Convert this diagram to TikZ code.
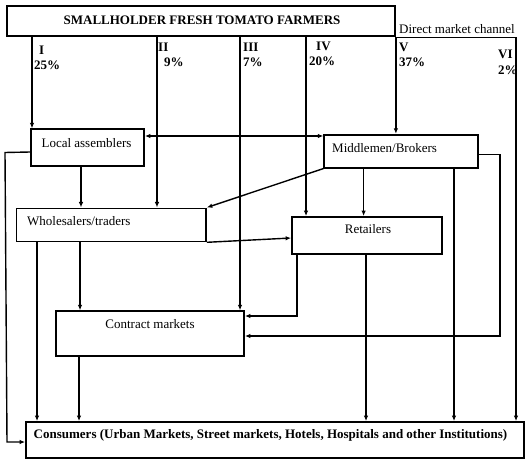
\documentclass[tikz,border=0pt]{standalone}
\usepackage{fontspec}
\setmainfont{Liberation Serif}
\usetikzlibrary{arrows.meta}
\begin{document}
\begin{tikzpicture}[x=1pt,y=-1pt,
  box/.style={draw,line width=1.8pt,rectangle,inner sep=0pt},
  txt/.style={inner sep=0pt,font=\fontsize{13}{15}\selectfont,text height=8.6pt,text depth=0pt},
  btxt/.style={txt,font=\fontsize{13}{15}\selectfont\bfseries},
  conn/.style={line width=1.4pt},
  arr/.style={conn,-{Latex[length=5.5pt,width=4.5pt]}},
  darr/.style={conn,{Latex[length=5.5pt,width=4.5pt]}-{Latex[length=5.5pt,width=4.5pt]}}]
\useasboundingbox (0,0) rectangle (529,462);
% boxes
\node[box,minimum width=388pt,minimum height=30.7pt] (farm) at (201,21) {};
\node[box,minimum width=113pt,minimum height=37pt] (local) at (87.5,147.8) {};
\node[box,minimum width=153.5pt,minimum height=33pt] (mid) at (401,151.2) {};
\node[box,minimum width=189.5pt,minimum height=33pt] (whole) at (111.2,224.9) {};
\node[box,minimum width=150pt,minimum height=37pt] (ret) at (367,235.5) {};
\node[box,minimum width=188pt,minimum height=44.7pt] (contract) at (150,333.6) {};
\node[box,minimum width=498pt,minimum height=36pt] (cons) at (275,440) {};
% texts
\node[btxt] (farmT) at (202,20) {SMALLHOLDER FRESH TOMATO FARMERS};
\node[txt,anchor=west] (directT) at (399,29.7) {Direct market channel};
\node[txt] (localT) at (86.5,143) {Local assemblers};
\node[txt,anchor=west] (midT) at (332,148) {Middlemen/Brokers};
\node[txt,anchor=west] (wholeT) at (27,221) {Wholesalers/traders};
\node[txt] (retT) at (368,229) {Retailers};
\node[txt] (contractT) at (150,324) {Contract markets};
\node[btxt] (consT) at (270.5,434.5) {Consumers (Urban Markets, Street markets, Hotels, Hospitals and other Institutions)};
% channel labels
\node[btxt,anchor=west] (lI) at (39,50) {I};
\node[btxt,anchor=west] (pI) at (34,65) {25\%};
\node[btxt,anchor=west] (lII) at (158,47) {II};
\node[btxt,anchor=west] (pII) at (164,62) {9\%};
\node[btxt,anchor=west] (lIII) at (243,47) {III};
\node[btxt,anchor=west] (pIII) at (243,62) {7\%};
\node[btxt,anchor=west] (lIV) at (316,46) {IV};
\node[btxt,anchor=west] (pIV) at (309,61) {20\%};
\node[btxt,anchor=west] (lV) at (399,47) {V};
\node[btxt,anchor=west] (pV) at (399,62) {37\%};
\node[btxt,anchor=west] (lVI) at (498,54) {VI};
\node[btxt,anchor=west] (pVI) at (498,70) {2\%};
% helper coordinates
\coordinate (cI) at (32,0);
\coordinate (cII) at (157,0);
\coordinate (cIII) at (240,0);
\coordinate (cIV) at (306,0);
\coordinate (cVI) at (516,0);
\coordinate (cLW) at (81,0);
\coordinate (cWC) at (37,0);
\coordinate (cWK) at (80,0);
\coordinate (cKC) at (79,0);
\coordinate (cMR) at (363.6,0);
\coordinate (cMC) at (454,0);
\coordinate (cRC) at (366,0);
\coordinate (cRK) at (297,0);
\coordinate (yD) at (0,136);
\coordinate (yLL) at (0,152);
\coordinate (yLB) at (0,442);
\coordinate (yMR) at (0,154.4);
\coordinate (yMK) at (0,336);
\coordinate (yRK) at (0,316);
\coordinate (yWR) at (0,238);
\coordinate (lftA) at (5,152.5);
\coordinate (lftB) at (7,442);
\coordinate (rgtA) at (500,154.4);
\coordinate (rgtB) at (500,336);
\coordinate (rkA) at (297,316);
% farmer channels
\draw[arr] (farm.south -| cI) -- (local.north -| cI);
\draw[arr] (farm.south -| cII) -- (whole.north -| cII);
\draw[arr] (farm.south -| cIII) -- (contract.north -| cIII);
\draw[arr] (farm.south -| cIV) -- (ret.north -| cIV);
\draw[arr] (farm.south east) -- (farm.south east |- mid.north);
\draw[arr] (farm.south east) -| (cons.north -| cVI);
% local assemblers
\draw[darr] (local.east |- yD) -- (mid.west |- yD);
\draw[arr] (local.south -| cLW) -- (whole.north -| cLW);
\draw[arr] (local.west |- yLL) -- (lftA) -- (lftB) -- (cons.west |- yLB);
% middlemen
\draw[arr] (mid.south west) -- (whole.north east);
\draw[arr] (mid.south -| cMR) -- (ret.north -| cMR);
\draw[arr] (mid.south -| cMC) -- (cons.north -| cMC);
\draw[arr] (mid.east |- yMR) -- (rgtA) -- (rgtB) -- (contract.east |- yMK);
% wholesalers
\draw[arr] (whole.south east) -- (ret.west |- yWR);
\draw[arr] (whole.south -| cWC) -- (cons.north -| cWC);
\draw[arr] (whole.south -| cWK) -- (contract.north -| cWK);
% retailers
\draw[arr] (ret.south -| cRK) -- (rkA) -- (contract.east |- yRK);
\draw[arr] (ret.south -| cRC) -- (cons.north -| cRC);
% contract
\draw[arr] (contract.south -| cKC) -- (cons.north -| cKC);
\end{tikzpicture}
\end{document}
